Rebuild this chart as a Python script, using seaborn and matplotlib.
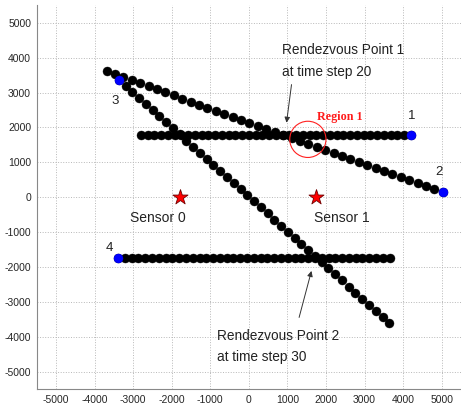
import matplotlib
matplotlib.use("Agg")
import matplotlib.pyplot as plt
import seaborn as sns
import pandas as pd

# Trajectory 1 (horizontal, starts at right)
t1_x = [4200, 4025, 3850, 3675, 3500, 3325, 3150, 2975, 2800, 2625, 2450, 2275, 2100, 1925,
        1750, 1575, 1400, 1225, 1050, 875, 700, 525, 350, 175, 0, -175, -350, -525, -700,
        -875, -1050, -1225, -1400, -1575, -1750, -1925, -2100, -2275, -2450, -2625, -2800]
t1_y = [1780, 1780, 1780, 1780, 1780, 1780, 1780, 1780, 1780, 1780, 1780, 1780, 1780, 1780,
        1780, 1780, 1780, 1780, 1780, 1780, 1780, 1780, 1780, 1780, 1780, 1780, 1780, 1780,
        1780, 1780, 1780, 1780, 1780, 1780, 1780, 1780, 1780, 1780, 1780, 1780, 1780]
# Trajectory 2 (from lower right to upper left)
t2_x = [5030, 4812, 4594, 4376, 4158, 3940, 3722, 3504, 3286, 3068, 2850, 2632, 2414, 2196,
        1978, 1760, 1542, 1324, 1106, 888, 670, 452, 234, 16, -202, -420, -638, -856, -1074,
        -1292, -1510, -1728, -1946, -2164, -2382, -2600, -2818, -3036, -3254, -3472, -3690]
t2_y = [140, 227, 314, 400, 487, 574, 661, 747, 834, 921, 1008, 1094, 1181, 1268, 1355, 1441,
        1528, 1615, 1702, 1788, 1875, 1962, 2049, 2135, 2222, 2309, 2396, 2482, 2569, 2656,
        2743, 2829, 2916, 3003, 3090, 3176, 3263, 3350, 3437, 3523, 3610]
# Trajectory 3 (from upper left to lower right)
t3_x = [-3370, -3195, -3019, -2844, -2669, -2494, -2318, -2143, -1968, -1793, -1618, -1442,
        -1267, -1092, -917, -741, -566, -391, -216, -40, 135, 310, 485, 661, 836, 1011, 1186,
        1362, 1537, 1712, 1888, 2063, 2238, 2413, 2589, 2764, 2939, 3114, 3290, 3465, 3640]
t3_y = [3370, 3196, 3021, 2847, 2673, 2499, 2324, 2150, 1976, 1802, 1627, 1453, 1279, 1105,
        931, 756, 582, 408, 234, 59, -115, -289, -463, -638, -812, -986, -1160, -1335, -1509,
        -1683, -1858, -2032, -2206, -2380, -2555, -2729, -2903, -3077, -3252, -3426, -3600]
# Trajectory 4 (horizontal, starts at left)
t4_x = [-3390, -3214, -3038, -2862, -2686, -2510, -2334, -2158, -1982, -1806, -1630, -1454,
        -1278, -1102, -926, -750, -574, -398, -222, -46, 130, 306, 482, 658, 834, 1010, 1186,
        1362, 1538, 1714, 1890, 2066, 2242, 2418, 2594, 2770, 2946, 3122, 3298, 3474, 3650]
t4_y = [-1750, -1750, -1750, -1750, -1750, -1750, -1750, -1750, -1750, -1750, -1750, -1750,
        -1750, -1750, -1750, -1750, -1750, -1750, -1750, -1750, -1750, -1750, -1750, -1750,
        -1750, -1750, -1750, -1750, -1750, -1750, -1750, -1750, -1750, -1750, -1750, -1750,
        -1750, -1750, -1750, -1750, -1750]

target_labels = ["1", "2", "3", "4"]
label_x = [4215, 4930, -3472, -3619]
label_y = [2325, 712, 2752, -1444]

sensor_x = [-1790, 1740]
sensor_y = [0, 0]
sensor_names = ["Sensor 0", "Sensor 1"]
sensor_label_x = [-2350, 2410]
sensor_label_y = [-590, -590]

ticks = [-5000, -4000, -3000, -2000, -1000, 0, 1000, 2000, 3000, 4000, 5000]

sns.set_style("white")
plt.rcParams['font.family'] = ['Liberation Sans', 'DejaVu Sans']

fig = plt.figure(figsize=(4.61, 4.08), dpi=100)
ax = fig.add_axes([0.0796, 0.0456, 0.9204, 0.9415])

trajs = [(t1_x, t1_y), (t2_x, t2_y), (t3_x, t3_y), (t4_x, t4_y)]
frames = []
for k, (xs, ys) in enumerate(trajs):
    frames.append(pd.DataFrame({"x": xs, "y": ys, "target": target_labels[k]}))
df = pd.concat(frames, ignore_index=True)

sns.scatterplot(data=df, x="x", y="y", color="black", s=42, edgecolor="black",
                linewidth=0.3, ax=ax, legend=False, zorder=3)

start_df = pd.DataFrame({"x": [t[0][0] for t in trajs], "y": [t[1][0] for t in trajs]})
sns.scatterplot(data=start_df, x="x", y="y", color="#0000ff", s=42, edgecolor="#0000ff",
                linewidth=0.3, ax=ax, legend=False, zorder=4)

sens_df = pd.DataFrame({"x": sensor_x, "y": sensor_y})
sns.scatterplot(data=sens_df, x="x", y="y", marker="*", color="#ff0000", s=130,
                edgecolor="#700000", linewidth=0.6, ax=ax, legend=False, zorder=5)

for lab, lx, ly in zip(target_labels, label_x, label_y):
    ax.text(lx, ly, lab, fontsize=9.5, ha="center", va="center", color="#222222")
for nm, lx, ly in zip(sensor_names, sensor_label_x, sensor_label_y):
    ax.text(lx, ly, nm, fontsize=10, ha="center", va="center", color="#222222")

# Region 1 circle
ax.scatter([1530], [1660], s=680, facecolors="none", edgecolors="#ff2020", linewidths=0.8, zorder=6)
ax.text(2357, 2313, "Region 1", fontsize=8.7, fontweight="bold", color="#ff1a1a",
        family=["Liberation Serif", "DejaVu Serif"], ha="center", va="center")

ax.text(850, 3912, "Rendezvous Point 1\nat time step 20", fontsize=9.8, ha="left",
        va="center", color="#222222", linespacing=1.75)
ax.annotate("", xy=(977, 2137), xytext=(1106, 3228),
            arrowprops=dict(arrowstyle="-|>", color="#333333", lw=0.7, shrinkA=0, shrinkB=0,
                            mutation_scale=8))

ax.text(-825, -4279, "Rendezvous Point 2\nat time step 30", fontsize=9.8, ha="left",
        va="center", color="#222222", linespacing=1.65)
ax.annotate("", xy=(1623, -2108), xytext=(1303, -3439),
            arrowprops=dict(arrowstyle="-|>", color="#333333", lw=0.7, shrinkA=0, shrinkB=0,
                            mutation_scale=8))

ax.set_xlim(-5500, 5500)
ax.set_ylim(-5500, 5500)
ax.set_xticks(ticks)
ax.set_yticks(ticks)
ax.set_xticklabels([str(t) for t in ticks], fontsize=7.5)
ax.set_yticklabels([str(t) for t in ticks], fontsize=7.5)
ax.set_xlabel("")
ax.set_ylabel("")
ax.grid(True, linestyle=":", color="#b8b8b8", linewidth=0.7)
ax.set_axisbelow(True)
ax.tick_params(axis="both", length=0, pad=4)
for side in ["top", "right"]:
    ax.spines[side].set_visible(False)
for side in ["left", "bottom"]:
    ax.spines[side].set_color("#888888")
    ax.spines[side].set_linewidth(0.8)

fig.savefig("out.png", dpi=100)
